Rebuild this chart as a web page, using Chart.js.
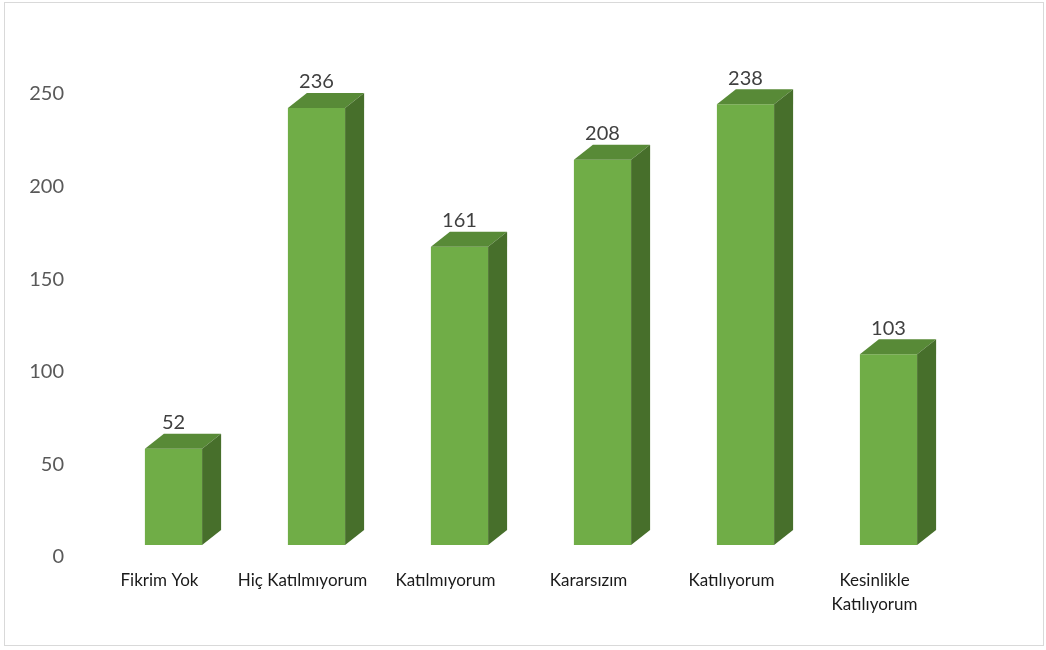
<!DOCTYPE html>
<html>
<head>
<meta charset="utf-8">
<script src="https://cdn.jsdelivr.net/npm/chart.js@4"></script>
<style>
  body { margin: 0; background: #fff; }
  #wrap { position: relative; width: 1046px; height: 650px; }
  #frame { position: absolute; left: 4px; top: 2px; width: 1040px; height: 644px; border: 1px solid #d9d9d9; box-sizing: border-box; pointer-events: none; }
</style>
</head>
<body>
<div id="wrap">
  <canvas id="chart" width="1046" height="650"></canvas>
  <div id="frame"></div>
</div>
<script>
const categories = ['Fikrim Yok', 'Hiç Katılmıyorum', 'Katılmıyorum', 'Kararsızım', 'Katılıyorum', ['Kesinlikle', 'Katılıyorum']];
const counts = [52, 236, 161, 208, 238, 103];
const yTicks = [0, 50, 100, 150, 200, 250];

const frontColor = '#70AD47';
const topColor = '#588A37';
const sideColor = '#476F2B';
const depthX = 19;
const depthY = 15;

// draws the top and side faces so the bars look like Excel 3D columns
const boxFaces = {
  id: 'boxFaces',
  afterDatasetsDraw(chart) {
    const ctx = chart.ctx;
    const meta = chart.getDatasetMeta(0);
    ctx.save();
    meta.data.forEach((bar, i) => {
      const left = bar.x - bar.width / 2;
      const right = bar.x + bar.width / 2;
      const top = bar.y;
      const bottom = bar.base;

      ctx.fillStyle = topColor;
      ctx.beginPath();
      ctx.moveTo(left, top);
      ctx.lineTo(left + depthX, top - depthY);
      ctx.lineTo(right + depthX, top - depthY);
      ctx.lineTo(right, top);
      ctx.closePath();
      ctx.fill();

      ctx.fillStyle = sideColor;
      ctx.beginPath();
      ctx.moveTo(right, top);
      ctx.lineTo(right + depthX, top - depthY);
      ctx.lineTo(right + depthX, bottom - depthY);
      ctx.lineTo(right, bottom);
      ctx.closePath();
      ctx.fill();

      ctx.fillStyle = '#404040';
      ctx.font = '20px Lato';
      ctx.textAlign = 'center';
      ctx.textBaseline = 'middle';
      ctx.fillText(String(counts[i]), bar.x, top - 26);
    });
    ctx.restore();
  }
};

new Chart(document.getElementById('chart'), {
  type: 'bar',
  data: {
    labels: categories,
    datasets: [{
      data: counts,
      backgroundColor: frontColor,
      borderWidth: 0,
      barPercentage: 0.4,
      categoryPercentage: 1.0
    }]
  },
  options: {
    responsive: false,
    animation: false,
    layout: { padding: { top: 82, right: 86, left: 0, bottom: 0 } },
    plugins: { legend: { display: false }, tooltip: { enabled: false } },
    scales: {
      x: {
        grid: { display: false, drawTicks: false },
        border: { display: false },
        afterFit: (scale) => { scale.height = 105; },
        ticks: {
          padding: 24,
          labelOffset: -14,
          maxRotation: 0,
          autoSkip: false,
          color: '#1a1a1a',
          font: { family: 'Lato', size: 17, lineHeight: 1.4 }
        }
      },
      y: {
        min: 0,
        max: 250,
        afterFit: (scale) => { scale.width = 102; },
        afterBuildTicks: (scale) => { scale.ticks = yTicks.map(v => ({ value: v })); },
        grid: { display: false, drawTicks: false },
        border: { display: false },
        ticks: {
          padding: 38,
          labelOffset: 12,
          color: '#595959',
          font: { family: 'Lato', size: 20 }
        }
      }
    }
  },
  plugins: [boxFaces]
});
</script>
</body>
</html>
